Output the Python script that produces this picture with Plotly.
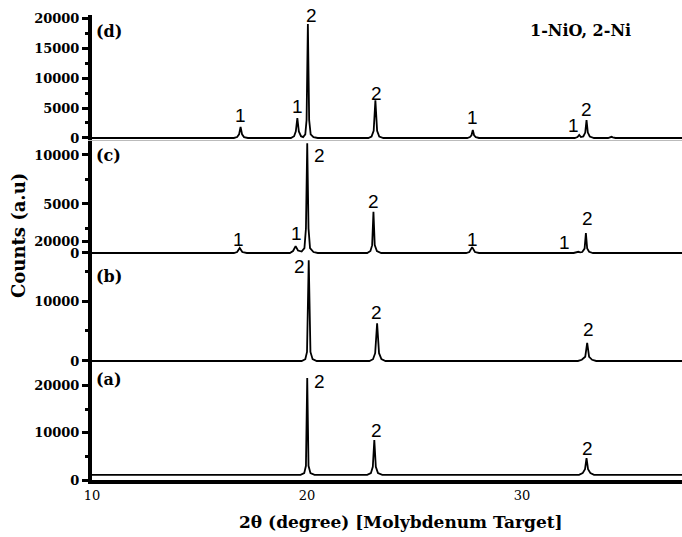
import plotly.graph_objects as go

# ---------------- data (2theta, counts) ----------------
# Panel (d)
d_x = [10, 16.6, 16.75, 16.84, 16.91, 16.98, 17.07, 17.25,
       19.25, 19.4, 19.48, 19.55, 19.62, 19.72, 19.82, 19.92, 19.98, 20.04, 20.1, 20.17, 20.3, 20.5,
       22.85, 23.0, 23.1, 23.18, 23.26, 23.36, 23.55,
       27.45, 27.58, 27.65, 27.71, 27.77, 27.85, 28.0,
       32.45, 32.58, 32.66, 32.74, 32.85, 32.94, 33.0, 33.06, 33.15, 33.35,
       34.0, 34.1, 34.16, 34.22, 34.35, 37.5]
d_y = [0, 0, 150, 600, 1830, 600, 150, 0,
       0, 300, 1100, 3300, 1100, 300, 150, 600, 3000, 19000, 3000, 600, 150, 0,
       0, 250, 1200, 6300, 1200, 250, 0,
       0, 150, 450, 1330, 450, 150, 0,
       0, 150, 500, 150, 250, 900, 3000, 900, 250, 0,
       0, 100, 200, 100, 0, 0]

# Panel (c)
c_x = [10, 16.6, 16.75, 16.87, 16.99, 17.2,
       19.2, 19.35, 19.47, 19.58, 19.75, 19.88, 19.95, 20.01, 20.07, 20.14, 20.3, 20.5,
       22.8, 22.95, 23.03, 23.09, 23.15, 23.25, 23.45,
       27.4, 27.55, 27.68, 27.81, 28.0,
       32.4, 32.55, 32.62, 32.7, 32.8, 32.91, 32.97, 33.03, 33.12, 33.3, 37.5]
c_y = [0, 0, 100, 510, 100, 0,
       0, 200, 700, 250, 150, 500, 2500, 11200, 2500, 500, 100, 0,
       0, 200, 800, 4200, 800, 200, 0,
       0, 100, 600, 100, 0,
       0, 60, 120, 60, 100, 450, 2040, 450, 120, 0, 0]

# Panel (b)
b_x = [10, 19.75, 19.92, 20.0, 20.08, 20.16, 20.26, 20.45,
       22.9, 23.07, 23.17, 23.26, 23.35, 23.46, 23.65,
       32.6, 32.78, 32.94, 33.03, 33.12, 33.26, 33.45, 37.5]
b_y = [0, 0, 300, 1500, 16800, 1500, 300, 0,
       0, 300, 1300, 6300, 1300, 300, 0,
       0, 200, 700, 3000, 700, 200, 0, 0]

# Panel (a)
a_x = [10, 19.7, 19.87, 19.95, 20.01, 20.07, 20.16, 20.35,
       22.8, 22.97, 23.06, 23.13, 23.2, 23.3, 23.5,
       32.65, 32.82, 32.93, 33.0, 33.07, 33.18, 33.35, 37.5]
a_y = [1100, 1100, 1450, 3000, 21600, 3000, 1450, 1100,
       1100, 1450, 2800, 8460, 2800, 1450, 1100,
       1100, 1450, 2300, 4650, 2300, 1450, 1100, 1100]

# Peak labels: (panel, 2theta, counts, text)
label_panel = ["d", "d", "d", "d", "d", "d", "d",
               "c", "c", "c", "c", "c", "c", "c",
               "b", "b", "b",
               "a", "a", "a"]
label_x = [16.91, 19.55, 20.2, 23.22, 27.68, 32.41, 33.02,
           16.80, 19.49, 20.58, 23.11, 27.68, 31.97, 33.04,
           19.65, 23.25, 33.09,
           20.58, 23.22, 33.04]
label_y = [3830, 5170, 20400, 7500, 3420, 2000, 4830,
           1360, 1940, 9900, 5300, 1380, 1020, 3470,
           15700, 8080, 5330,
           20800, 10400, 6700]
label_text = ["1", "1", "2", "2", "1", "1", "2",
              "1", "1", "2", "2", "1", "1", "2",
              "2", "2", "2",
              "2", "2", "2"]

panel_names = ["(a)", "(b)", "(c)", "(d)"]
panel_name_y = [21160, 14170, 9900, 17670]
legend_text = "1-NiO, 2-Ni"

# ---------------- figure ----------------
axis_of = {"a": ("x", "y"), "b": ("x2", "y2"), "c": ("x3", "y3"), "d": ("x4", "y4")}
series = {"a": (a_x, a_y), "b": (b_x, b_y), "c": (c_x, c_y), "d": (d_x, d_y)}

fig = go.Figure()
for key in ["a", "b", "c", "d"]:
    xs, ys = series[key]
    xa, ya = axis_of[key]
    fig.add_trace(go.Scatter(x=xs, y=ys, mode="lines", xaxis=xa, yaxis=ya,
                             line=dict(color="black", width=1.8), showlegend=False,
                             cliponaxis=False))

SERIF = "DejaVu Serif"
tickfont = dict(family=SERIF, size=13, color="black", weight="bold")


def yax(domain, rng, dtick, minor, anchor):
    return dict(domain=domain, range=rng, anchor=anchor, dtick=dtick, tick0=0,
                tickformat="d", showline=True, linewidth=4, linecolor="black",
                ticks="outside", ticklen=6, tickwidth=3, tickcolor="black",
                tickfont=tickfont, showgrid=False, zeroline=False, fixedrange=True,
                minor=dict(dtick=minor, tick0=0, ticks="outside", ticklen=3,
                           tickwidth=3, tickcolor="black", showgrid=False))


XR = [10, 37.44]
fig.update_layout(
    width=682, height=537,
    margin=dict(l=92, r=0, t=15, b=57),
    paper_bgcolor="white", plot_bgcolor="rgba(0,0,0,0)",
    xaxis=dict(domain=[0, 1], range=XR, anchor="y", showline=True, linewidth=4,
               linecolor="black", tickvals=[10, 20, 30], ticks="",
               tickfont=dict(family=SERIF, size=13, color="black"),
               showgrid=False, zeroline=False),
    xaxis2=dict(domain=[0, 1], matches="x", anchor="y2", showticklabels=False,
                showline=False, showgrid=False, zeroline=False, ticks=""),
    xaxis3=dict(domain=[0, 1], matches="x", anchor="y3", showticklabels=False,
                showline=False, showgrid=False, zeroline=False, ticks=""),
    xaxis4=dict(domain=[0, 1], matches="x", anchor="y4", showticklabels=False,
                showline=True, linewidth=1, linecolor="#bbbbbb",
                showgrid=False, zeroline=False, ticks=""),
    yaxis=yax([0, 0.2538], [0, 24970], 10000, 5000, "x"),
    yaxis2=yax([0.2538, 0.5247], [-167, 20840], 10000, 5000, "x2"),
    yaxis3=yax([0.4839, 0.7312], [-204, 11530], 5000, 2500, "x3"),
    yaxis4=yax([0.7312, 1.0], [-333, 20500], 5000, 2500, "x4"),
)

annotations = []
for p, x, y, t in zip(label_panel, label_x, label_y, label_text):
    xa, ya = axis_of[p]
    annotations.append(dict(x=x, y=y, xref=xa, yref=ya, text=t, showarrow=False,
                            xanchor="center", yanchor="middle",
                            font=dict(family="Liberation Sans", size=19, color="black")))
for key, name, y in zip(["a", "b", "c", "d"], panel_names, panel_name_y):
    xa, ya = axis_of[key]
    annotations.append(dict(x=10.1, y=y, xref=xa, yref=ya, text=name, showarrow=False,
                            xanchor="left", yanchor="middle",
                            font=dict(family=SERIF, size=16, color="black", weight="bold")))
annotations.append(dict(x=32.7, y=18000, xref="x4", yref="y4", text=legend_text,
                        showarrow=False, xanchor="center", yanchor="middle",
                        font=dict(family=SERIF, size=16, color="black", weight="bold")))
annotations.append(dict(x=0.524, y=-0.0903, xref="paper", yref="paper",
                        text="2θ (degree) [Molybdenum Target]", showarrow=False,
                        xanchor="center", yanchor="middle",
                        font=dict(family=SERIF, size=17, color="black", weight="bold")))
annotations.append(dict(x=-0.1254, y=0.5247, xref="paper", yref="paper",
                        text="Counts (a.u)", showarrow=False, textangle=-90,
                        xanchor="center", yanchor="middle",
                        font=dict(family=SERIF, size=18, color="black", weight="bold")))
fig.update_layout(annotations=annotations)

fig.write_html("out.html")
